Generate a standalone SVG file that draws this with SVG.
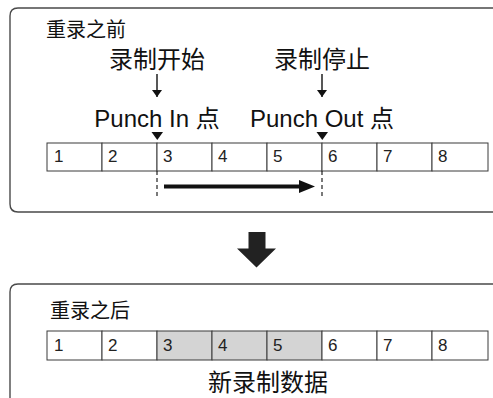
<svg xmlns="http://www.w3.org/2000/svg" width="493" height="398" viewBox="0 0 493 398">
<style>
.frame{fill:none;stroke:#4a4a4a;stroke-width:1.4}
.cell{fill:#fff;stroke:#3a3a3a;stroke-width:1}
.cell.g{fill:#d4d4d4}
.num{font-family:"Liberation Sans",Arial,sans-serif;font-size:17px;fill:#222}
.cjk{font-family:"Noto Sans CJK SC",sans-serif;fill:#111}
.lbl{font-family:"Liberation Sans",Arial,"Noto Sans CJK SC",sans-serif;font-size:24px;fill:#111;text-anchor:middle}
.dash{stroke:#222;stroke-width:1.2;stroke-dasharray:4 3;fill:none}
</style>
<defs>
<marker id="ah" markerWidth="8" markerHeight="10" refX="7" refY="5" orient="auto" markerUnits="userSpaceOnUse"><path d="M0,0 L7,5 L0,10 Z" fill="#111"/></marker>
</defs>
<g id="before">
<path class="frame" d="M493 8 H18 Q10 8 10 16 V204 Q10 212 18 212 H493"/>
<text class="cjk" x="46" y="37" font-size="20">重录之前</text>
<text class="cjk" x="157" y="68" font-size="24" text-anchor="middle">录制开始</text>
<text class="cjk" x="322" y="68" font-size="24" text-anchor="middle">录制停止</text>
<text class="lbl" x="157" y="127">Punch In 点</text>
<text class="lbl" x="322" y="127">Punch Out 点</text>
<g id="row1">
<rect class="cell" x="47" y="143" width="55" height="28"/>
<rect class="cell" x="102" y="143" width="55" height="28"/>
<rect class="cell" x="157" y="143" width="55" height="28"/>
<rect class="cell" x="212" y="143" width="55" height="28"/>
<rect class="cell" x="267" y="143" width="55" height="28"/>
<rect class="cell" x="322" y="143" width="55" height="28"/>
<rect class="cell" x="377" y="143" width="55" height="28"/>
<rect class="cell" x="432" y="143" width="56" height="28"/>
<text class="num" x="54" y="162">1</text>
<text class="num" x="108" y="162">2</text>
<text class="num" x="163" y="162">3</text>
<text class="num" x="218" y="162">4</text>
<text class="num" x="273" y="162">5</text>
<text class="num" x="328" y="162">6</text>
<text class="num" x="383" y="162">7</text>
<text class="num" x="438" y="162">8</text>
</g>
</g>
<g id="connectors">
<line x1="157" y1="74" x2="157" y2="97" stroke="#111" stroke-width="1.4" marker-end="url(#ah)"/>
<line x1="322" y1="74" x2="322" y2="97" stroke="#111" stroke-width="1.4" marker-end="url(#ah)"/>
<path d="M151.5 132 H163 L157.25 140 Z" fill="#111"/>
<path d="M316.5 132 H328 L322.25 140 Z" fill="#111"/>
<line class="dash" x1="157" y1="171" x2="157" y2="199"/>
<line class="dash" x1="322" y1="171" x2="322" y2="199"/>
<path d="M164 184.5 H299 V180 L315 186.5 L299 193 V188.5 H164 Z" fill="#111"/>
<path d="M248.5 232 H265.5 V248.5 H276 L256.5 267.5 L237 248.5 H248.5 Z" fill="#222"/>
</g>
<g id="after">
<path class="frame" d="M493 284 H18 Q10 284 10 292 V398"/>
<text class="cjk" x="50" y="318" font-size="20">重录之后</text>
<g id="row2">
<rect class="cell" x="47" y="331" width="55" height="29"/>
<rect class="cell" x="102" y="331" width="55" height="29"/>
<rect class="cell g" x="157" y="331" width="55" height="29"/>
<rect class="cell g" x="212" y="331" width="55" height="29"/>
<rect class="cell g" x="267" y="331" width="55" height="29"/>
<rect class="cell" x="322" y="331" width="55" height="29"/>
<rect class="cell" x="377" y="331" width="55" height="29"/>
<rect class="cell" x="432" y="331" width="56" height="29"/>
<text class="num" x="54" y="351">1</text>
<text class="num" x="108" y="351">2</text>
<text class="num" x="163" y="351">3</text>
<text class="num" x="218" y="351">4</text>
<text class="num" x="273" y="351">5</text>
<text class="num" x="328" y="351">6</text>
<text class="num" x="383" y="351">7</text>
<text class="num" x="438" y="351">8</text>
</g>
<text class="cjk" x="268" y="391" font-size="24" text-anchor="middle">新录制数据</text>
</g>
</svg>
